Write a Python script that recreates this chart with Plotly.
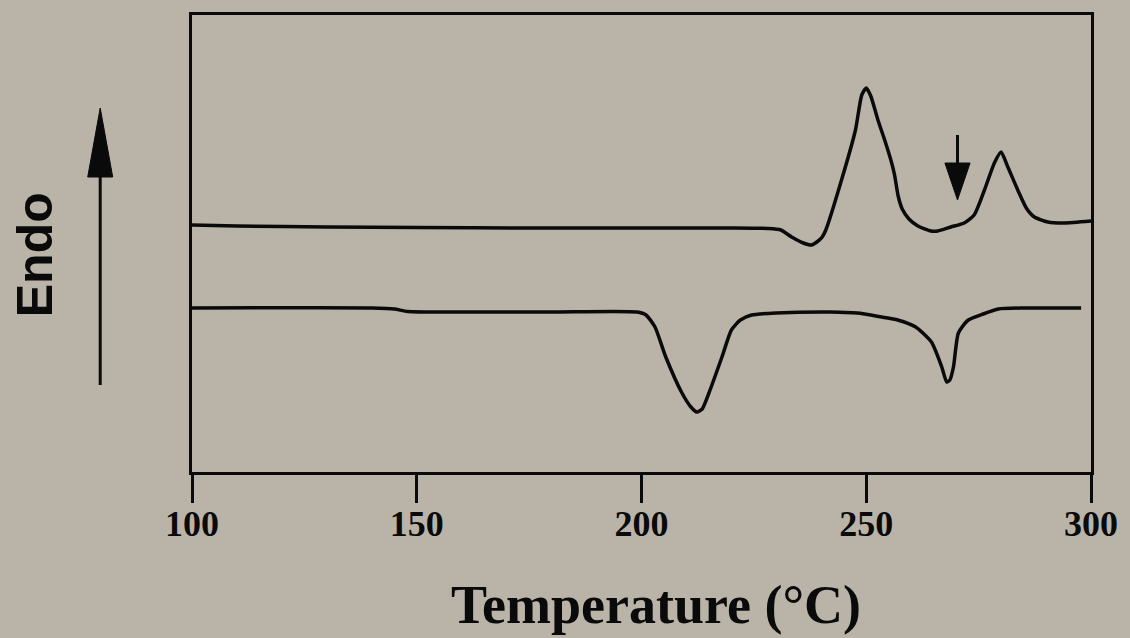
import plotly.graph_objects as go

# ---- data (signal = height above the lower frame, arbitrary units) ----
upper_T = [100, 110, 130, 150, 175, 200, 220, 228, 231, 233.4, 236, 237.8, 239.3, 240.2, 241,
           244.5, 247.6, 249, 250, 251, 252.6, 254.1, 255.6, 256.3, 257.1, 258, 259.5, 261.5, 264.4,
           265.9, 268.8, 271.8, 274, 276.3, 278.5, 280, 281.5, 283.7, 285.6, 287.4, 290.4, 294, 300]
upper_S = [247, 246, 245, 244.5, 244, 244, 244, 243.5, 242, 235, 229, 227, 231, 235, 242,
           292, 342, 377, 384, 376, 352, 332, 310, 297, 276, 263, 253, 246, 241,
           241, 245, 249, 257, 282, 309, 320, 305, 282, 264, 255, 250, 249, 251]

lower_T = [100, 140, 145, 148, 160, 180, 199, 201, 203, 205.4, 209, 211, 212.3, 213.5, 215,
           217.9, 220, 222, 224.5, 230, 242, 248, 253.4, 257, 261, 264.5, 266.8, 267.9, 268.6,
           269.4, 270.5, 272.7, 276, 279.4, 285, 290, 297.8]
lower_S = [164, 164, 163, 160.5, 160, 160, 160, 157, 145, 115, 79, 65, 60, 63, 79,
           115, 142, 152, 157, 159, 160, 159, 155, 152, 145, 130, 105, 90, 92,
           105, 139, 152, 158, 163, 164, 164, 164]

x_ticks = [100, 150, 200, 250, 300]
x_label = "Temperature (°C)"
y_label = "Endo"
marker_T = 270.3            # temperature marked by the down arrow
marker_from, marker_to = 337, 272

BG = "#bab4a8"
INK = "#0a0a0a"

fig = go.Figure()
for T, S in [(upper_T, upper_S), (lower_T, lower_S)]:
    fig.add_trace(go.Scatter(x=T, y=S, mode="lines",
                             line=dict(color=INK, width=3.5, shape="spline", smoothing=0.6),
                             hoverinfo="skip", showlegend=False))

# down arrow inside plot (data coords)
head_len = 37
half_w = 2.8
fig.add_shape(type="line", xref="x", yref="y", x0=marker_T, x1=marker_T,
              y0=marker_from, y1=marker_to + head_len - 2, line=dict(color=INK, width=3))
fig.add_shape(type="path", xref="x", yref="y",
              path=f"M {marker_T-half_w},{marker_to+head_len} L {marker_T+half_w},{marker_to+head_len} L {marker_T},{marker_to} Z",
              fillcolor=INK, line=dict(color=INK, width=1))

# Endo arrow outside plot (paper coords)
ax_x = -0.1021
fig.add_shape(type="line", xref="paper", yref="paper", x0=ax_x, x1=ax_x,
              y0=0.1904, y1=0.66, line=dict(color=INK, width=3))
fig.add_shape(type="path", xref="paper", yref="paper",
              path=f"M {ax_x-0.0139},0.6455 L {ax_x+0.0139},0.6455 L {ax_x},0.7965 Z",
              fillcolor=INK, line=dict(color=INK, width=1))

fig.add_annotation(text=y_label, xref="paper", yref="paper", x=-0.1743, y=0.475,
                   xanchor="center", yanchor="middle",
                   textangle=-90, showarrow=False,
                   font=dict(family="Liberation Sans", size=50, color=INK, weight="bold"))
fig.add_annotation(text=x_label, xref="paper", yref="paper", x=0.516, y=-0.291,
                   showarrow=False, xanchor="center", yanchor="middle",
                   font=dict(family="Liberation Serif", size=54, color=INK, weight="bold"))

fig.update_layout(
    width=1130, height=638,
    margin=dict(l=192, r=37, t=15, b=166),
    paper_bgcolor=BG, plot_bgcolor=BG,
    xaxis=dict(range=[100, 300], tickvals=x_ticks, ticktext=[str(t) for t in x_ticks],
               ticks="outside", ticklen=28, tickwidth=3, tickcolor=INK,
               ticklabelstandoff=-10,
               showline=True, linewidth=3, linecolor=INK, mirror=True,
               showgrid=False, zeroline=False,
               tickfont=dict(family="Liberation Serif", size=36, color=INK, weight="bold")),
    yaxis=dict(range=[0, 457], showticklabels=False, ticks="",
               showline=True, linewidth=3, linecolor=INK, mirror=True,
               showgrid=False, zeroline=False),
)

fig.write_html("out.html", config={"displayModeBar": False},
               post_script="document.body.style.margin='0';document.body.style.background='" + BG + "';")
